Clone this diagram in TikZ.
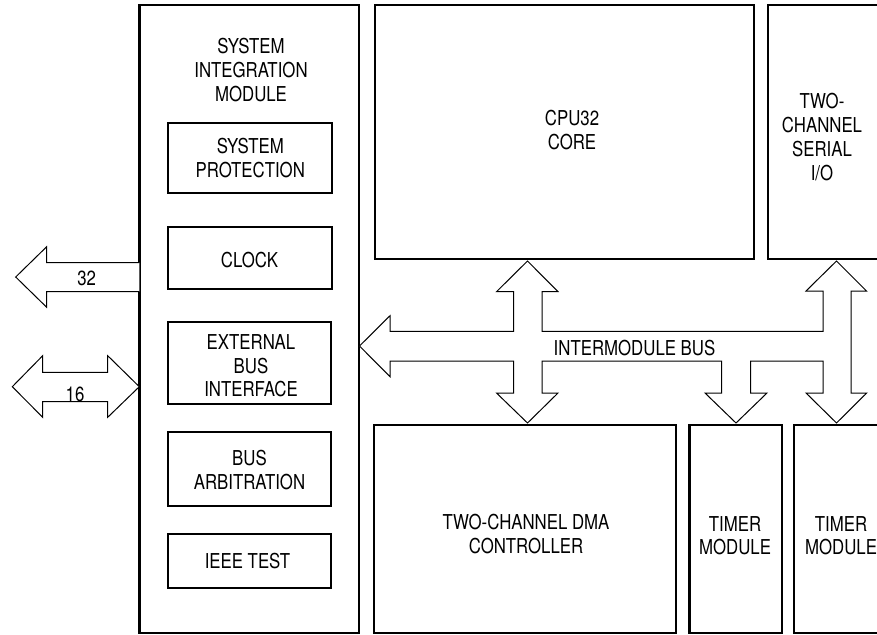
\documentclass[tikz,border=0pt]{standalone}
\usepackage{fontspec}
\setmainfont{TeX Gyre Heros}[FakeStretch=0.82]

\begin{document}
\begin{tikzpicture}[yscale=-1
  ,pstyle0/.style={color=black,line width=2.4pt}
  ,pstyle1/.style={color=black,line width=2pt}
  ,pstyle2/.style={color=black,fill=white,line width=1pt,line join=miter}
  ,lstyle/.style={color=black,align=center,inner sep=0pt,font=\fontsize{20.5pt}{23.7pt}\selectfont}
]
\useasboundingbox (0pt,0pt) rectangle (877pt,634pt);
\clip (0pt,0pt) rectangle (877pt,634pt);

% --- Module outlines ---
\draw[pstyle0] (139.3pt,5pt) rectangle (358.7pt,632.7pt);
\node[lstyle] (sim) at (251pt,70.2pt) {SYSTEM\\INTEGRATION\\MODULE};

\draw[pstyle0] (375pt,5pt) rectangle (754pt,258.7pt);
\node[lstyle] (cpu) at (572pt,129.7pt) {CPU32\\CORE};

\draw[pstyle0] (767.7pt,5pt) rectangle (930pt,258.7pt);
\node[lstyle] (sio) at (822pt,137pt) {TWO-\\CHANNEL\\SERIAL\\I/O};

\draw[pstyle0] (374pt,425pt) rectangle (675.7pt,632.7pt);
\node[lstyle] (dma) at (526pt,534.2pt) {TWO-CHANNEL DMA\\CONTROLLER};

\draw[pstyle0] (689.3pt,425pt) rectangle (781.7pt,632.7pt);
\node[lstyle] (tmra) at (735pt,535.8pt) {TIMER\\MODULE};

\draw[pstyle0] (794pt,425pt) rectangle (888pt,632.7pt);
\node[lstyle] (tmrb) at (841pt,535.8pt) {TIMER\\MODULE};

% --- Blocks inside the integration module ---
\draw[pstyle1] (167.5pt,122.7pt) rectangle (331.5pt,192.7pt);
\node[lstyle] (prot) at (250.3pt,158pt) {SYSTEM\\PROTECTION};

\draw[pstyle1] (167.5pt,226.7pt) rectangle (331.5pt,289.3pt);
\node[lstyle] (clk) at (249.5pt,260.2pt) {CLOCK};

\draw[pstyle1] (167.5pt,322pt) rectangle (331pt,404pt);
\node[lstyle] (ebi) at (251pt,365.8pt) {EXTERNAL\\BUS\\INTERFACE};

\draw[pstyle1] (167.5pt,432.3pt) rectangle (331pt,506pt);
\node[lstyle] (arb) at (249.5pt,470pt) {BUS\\ARBITRATION};

\draw[pstyle1] (167.5pt,534.3pt) rectangle (331pt,588.3pt);
\node[lstyle] (ieee) at (247.5pt,560.8pt) {IEEE TEST};

% --- External bus arrows ---
\draw[pstyle2] (139.3pt,262.7pt) -- (46.7pt,262.7pt) -- (46.7pt,246.7pt) -- (15.7pt,277pt)
  -- (46.7pt,307.3pt) -- (46.7pt,291.7pt) -- (139.3pt,291.7pt);
\node[lstyle] (addr) at (86.7pt,278.3pt) {32};

\draw[pstyle2] (12.3pt,386.7pt) -- (42.7pt,355.7pt) -- (42.7pt,372.3pt) -- (107.7pt,372.3pt)
  -- (107.7pt,355.7pt) -- (139.3pt,386.7pt) -- (107.7pt,417.3pt) -- (107.7pt,401.7pt)
  -- (42.7pt,401.7pt) -- (42.7pt,417.3pt) -- cycle;
\node[lstyle] (data) at (75pt,394.5pt) {16};

% --- Intermodule bus ---
\draw[pstyle2] (359.5pt,346pt) -- (390pt,315.7pt) -- (390pt,331.3pt)
  -- (513.6pt,331.3pt) -- (513.6pt,291.7pt) -- (496.5pt,291.7pt) -- (527.5pt,261pt)
  -- (558pt,291.7pt) -- (542pt,291.7pt) -- (542pt,331.3pt)
  -- (823pt,331.3pt) -- (823pt,291pt) -- (806pt,291pt) -- (836.5pt,261pt)
  -- (866.5pt,291pt) -- (851pt,291pt) -- (851pt,393pt) -- (866.7pt,393pt)
  -- (836.5pt,423pt) -- (806pt,393pt) -- (823pt,393pt) -- (823pt,361pt)
  -- (750.7pt,361pt) -- (750.7pt,393pt) -- (767pt,393pt) -- (736pt,423pt)
  -- (705pt,393pt) -- (721.5pt,393pt) -- (721.5pt,361pt)
  -- (542pt,361pt) -- (542pt,393pt) -- (558pt,393pt) -- (527.5pt,423pt)
  -- (496.5pt,393pt) -- (513.6pt,393pt) -- (513.6pt,361pt)
  -- (390pt,361pt) -- (390pt,376.7pt) -- cycle;
\node[lstyle] (imb) at (634.5pt,348pt) {INTERMODULE BUS};

\end{tikzpicture}
\end{document}
